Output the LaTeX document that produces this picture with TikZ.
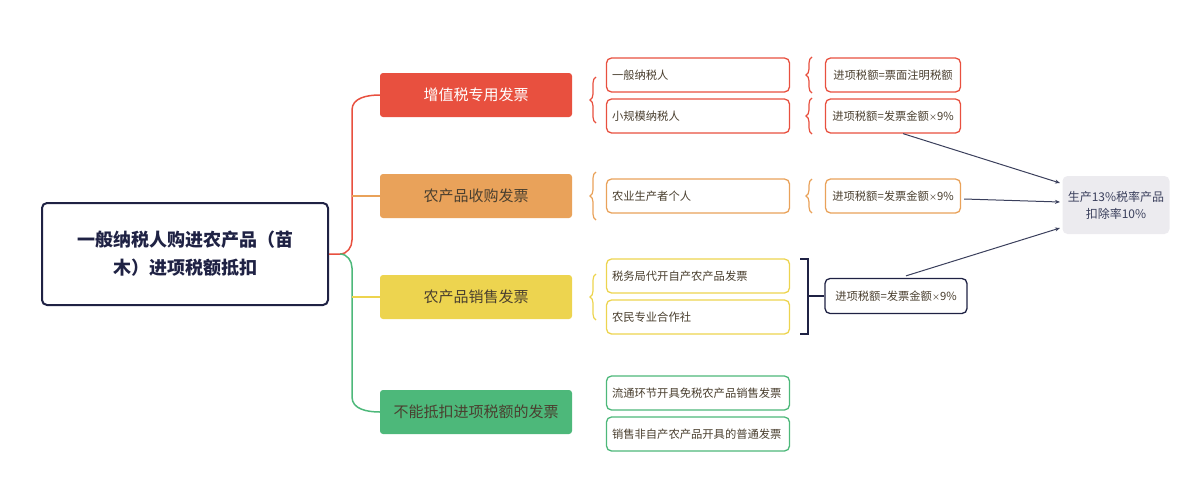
\documentclass[tikz,border=0pt]{standalone}
\usepackage{fontspec}
\setmainfont{Noto Sans CJK SC}
\usetikzlibrary{decorations.pathreplacing,arrows.meta}
\definecolor{cred}{HTML}{E8503F}
\definecolor{cora}{HTML}{E9A25A}
\definecolor{cyel}{HTML}{EDD44F}
\definecolor{cgrn}{HTML}{4DB87A}
\definecolor{navy}{HTML}{1F2244}
\definecolor{txt}{HTML}{4A3F2F}
\definecolor{gbox}{HTML}{ECEBEF}
\definecolor{arr}{HTML}{3A3F5C}
\newcommand{\tm}{{\fontsize{8}{8}\selectfont ×}}
\begin{document}
\begin{tikzpicture}[x=1pt,y=-1pt,
 lone/.style={rounded corners=3pt,minimum width=192pt,minimum height=44pt,font=\fontsize{15}{18}\selectfont,text=txt,inner sep=0pt},
 ltwo/.style={draw,line width=1.3pt,rounded corners=5pt,fill=white,minimum width=183pt,minimum height=34pt,text width=172pt,align=left,font=\fontsize{11.3}{14}\selectfont,text=txt,inner sep=0pt},
 lthr/.style={draw,line width=1.3pt,rounded corners=5pt,fill=white,minimum width=135pt,minimum height=34pt,font=\fontsize{11.3}{14}\selectfont,text=txt,inner sep=0pt},
 br/.style={decorate,decoration={brace,amplitude=6pt},line width=1.2pt},
 ar/.style={arr,line width=1pt,-{Stealth[length=5pt,width=4pt]}}]
\useasboundingbox (0,0) rectangle (1200,488);
\node[draw=navy,line width=2pt,rounded corners=5pt,minimum width=286pt,minimum height=102pt,align=center,font=\fontsize{18}{28}\selectfont\bfseries,text=navy] (root) at (185,254) {一般纳税人购进农产品（苗\\木）进项税额抵扣};
\node[lone,fill=cred,text=white] (a) at (476,95) {增值税专用发票};
\node[lone,fill=cora] (b) at (476,196) {农产品收购发票};
\node[lone,fill=cyel] (c) at (476,297) {农产品销售发票};
\node[lone,fill=cgrn] (d) at (476,412) {不能抵扣进项税额的发票};
% main bracket
\draw[cred,line width=1.5pt] (root.east) -- (340,254) to[out=0,in=-90] (352,240) -- (352,110) to[out=90,in=180] (a.west);
\draw[cgrn,line width=1.5pt] (340,254) to[out=0,in=90] (352,268) -- (352,397) to[out=-90,in=180] (d.west);
\draw[cora,line width=1.5pt] (352,196) -- (b.west);
\draw[cyel,line width=1.5pt] (352,297) -- (c.west);
% level 2
\node[ltwo,draw=cred] (a1) at (698,75) {一般纳税人};
\node[ltwo,draw=cred] (a2) at (698,116) {小规模纳税人};
\node[ltwo,draw=cora] (b1) at (698,196) {农业生产者个人};
\node[ltwo,draw=cyel] (c1) at (698,276) {税务局代开自产农产品发票};
\node[ltwo,draw=cyel] (c2) at (698,317) {农民专业合作社};
\node[ltwo,draw=cgrn] (d1) at (698,393) {流通环节开具免税农产品销售发票};
\node[ltwo,draw=cgrn] (d2) at (698,434) {销售非自产农产品开具的普通发票};
\draw[br,cred] (596,123) -- (596,77);
\draw[br,cora] (596,220) -- (596,172);
\draw[br,cyel] (596,320) -- (596,274);
% level 3
\node[lthr,draw=cred] (a3) at (893,75) {进项税额=票面注明税额};
\node[lthr,draw=cred] (a4) at (893,116) {进项税额=发票金额\tm9\%};
\node[lthr,draw=cora] (b3) at (893,196) {进项税额=发票金额\tm9\%};
\node[lthr,draw=navy,minimum width=142pt,minimum height=35pt] (c3) at (896,296) {进项税额=发票金额\tm9\%};
\draw[br,cred] (812,93) -- (812,57);
\draw[br,cred] (812,134) -- (812,98);
\draw[br,cora] (812,213) -- (812,179);
\draw[navy,line width=1.3pt] (800,259) -- (808,259) -- (808,334) -- (800,334);
\draw[navy,line width=1.3pt] (808,296) -- (c3.west);
\node[fill=gbox,rounded corners=5pt,minimum width=107pt,minimum height=58pt,align=center,font=\fontsize{12}{17}\selectfont,text=arr,inner sep=0pt] (e) at (1116,205) {生产13\%税率产品\\扣除率10\%};
\draw[ar] (a4.south east) ++(-58,0) coordinate (p1) (p1) -- (1060,183);
\draw[ar] (b3.east) ++(3,3) coordinate (p2) (p2) -- (1060,202);
\draw[ar] (c3.north) ++(10,-2) coordinate (p3) (p3) -- (1060,228);
\end{tikzpicture}
\end{document}
